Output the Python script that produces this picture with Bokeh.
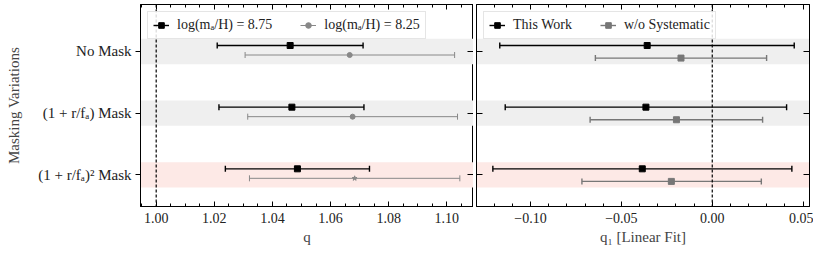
import numpy as np
from bokeh.plotting import figure
from bokeh.layouts import row
from bokeh.models import (ColumnDataSource, FixedTicker, LinearAxis, Legend, LegendItem, Span)
from bokeh.embed import file_html
from bokeh.resources import INLINE

# ---------------- data ----------------
categories = ["No Mask", "(1 + r/fₐ) Mask", "(1 + r/fₐ)² Mask"]
cat_pos = [2, 1, 0]
band_colors = ["#efefef", "#efefef", "#fde9e6"]

# left panel: q
q_main = [1.0461, 1.0467, 1.0486]
q_main_lo = [1.0210, 1.0216, 1.0238]
q_main_hi = [1.0712, 1.0715, 1.0734]
q_alt = [1.0666, 1.0676, 1.0683]
q_alt_lo = [1.0306, 1.0315, 1.0321]
q_alt_hi = [1.1027, 1.1037, 1.1045]
q_alt_markers = ["circle", "circle", "star"]

# right panel: q1 [Linear Fit]
q1_main = [-0.0358, -0.0365, -0.0385]
q1_main_lo = [-0.1169, -0.1139, -0.1207]
q1_main_hi = [0.0451, 0.0409, 0.0438]
q1_sys = [-0.0172, -0.0197, -0.0225]
q1_sys_lo = [-0.0643, -0.0672, -0.0717]
q1_sys_hi = [0.0299, 0.0277, 0.0270]

q_ticks = [1.00, 1.02, 1.04, 1.06, 1.08, 1.10]
q_tick_labels = ["1.00", "1.02", "1.04", "1.06", "1.08", "1.10"]
q1_ticks = [-0.10, -0.05, 0.00, 0.05]
q1_tick_labels = ["−0.10", "−0.05", "0.00", "0.05"]

q_ref = 1.0
q1_ref = 0.0
q_range = (0.9946, 1.1092)
q1_range = (-0.1297, 0.0535)
y_range = (-0.514, 2.762)

FONT = "Liberation Serif"


def hide_labels(ax):
    ax.major_label_text_font_size = "0px"
    ax.major_label_text_color = None
    ax.major_label_standoff = 0


def style_axes(p, xticks, xlabels, minor, xlabel, show_ylabels):
    p.outline_line_color = "black"
    p.outline_line_width = 1
    p.grid.visible = False
    # bottom axis
    xa = p.xaxis[0]
    xa.ticker = FixedTicker(ticks=xticks, minor_ticks=minor)
    xa.major_label_overrides = {t: l for t, l in zip(xticks, xlabels)}
    xa.major_tick_in = 5
    xa.major_tick_out = 0
    xa.minor_tick_in = 3
    xa.minor_tick_out = 0
    xa.major_label_standoff = 6
    xa.major_label_text_font = FONT
    xa.major_label_text_font_size = "14px"
    xa.major_label_text_color = "#222222"
    xa.axis_label = xlabel
    xa.axis_label_text_font = FONT
    xa.axis_label_text_font_style = "normal"
    xa.axis_label_text_font_size = "15px"
    xa.axis_label_standoff = 3
    xa.axis_line_color = "black"
    # top axis
    ta = LinearAxis(ticker=FixedTicker(ticks=xticks, minor_ticks=minor))
    ta.major_tick_in = 5
    ta.major_tick_out = 0
    ta.minor_tick_in = 3
    ta.minor_tick_out = 0
    hide_labels(ta)
    ta.axis_line_color = "black"
    p.add_layout(ta, "above")
    # left axis
    ya = p.yaxis[0]
    ya.ticker = FixedTicker(ticks=cat_pos)
    ya.minor_tick_line_color = None
    ya.axis_line_color = "black"
    if show_ylabels:
        ya.major_label_overrides = {c: l for c, l in zip(cat_pos, categories)}
        ya.major_tick_out = 5
        ya.major_tick_in = 0
        ya.major_label_standoff = 4
        ya.major_label_text_font = FONT
        ya.major_label_text_font_size = "15px"
        ya.major_label_text_color = "#222222"
        ya.axis_label = "Masking Variations"
        ya.axis_label_text_font = FONT
        ya.axis_label_text_font_style = "normal"
        ya.axis_label_text_font_size = "15px"
        ya.axis_label_standoff = 13
    else:
        ya.major_tick_out = 0
        ya.major_tick_in = 6
        hide_labels(ya)
    # right axis
    ra = LinearAxis(ticker=FixedTicker(ticks=cat_pos))
    ra.major_tick_in = 6
    ra.major_tick_out = 0
    ra.minor_tick_line_color = None
    hide_labels(ra)
    ra.axis_line_color = "black"
    p.add_layout(ra, "right")


def add_bands(p, xr):
    src = ColumnDataSource(dict(y=cat_pos, left=[xr[0]] * 3, right=[xr[1]] * 3, color=band_colors))
    p.hbar(y="y", left="left", right="right", height=0.41, fill_color="color",
           line_color=None, source=src)


def add_errorbars(p, x, lo, hi, dy, color, lw, marker, msize, capsize):
    ys = [c + dy for c in cat_pos]
    src = ColumnDataSource(dict(x=x, lo=lo, hi=hi, y=ys, marker=marker))
    seg = p.segment(x0="lo", y0="y", x1="hi", y1="y", line_color=color, line_width=lw, source=src)
    p.scatter(x="lo", y="y", marker="dash", angle=np.pi / 2, size=capsize, line_color=color,
              line_width=lw, source=src)
    p.scatter(x="hi", y="y", marker="dash", angle=np.pi / 2, size=capsize, line_color=color,
              line_width=lw, source=src)
    mk = p.scatter(x="x", y="y", marker="marker", size=msize, fill_color=color, line_color=color,
                   source=src)
    return seg, mk


def make_legend(p, items):
    leg = Legend(items=items, orientation="horizontal", location="top_left")
    leg.label_text_font = FONT
    leg.label_text_font_size = "14px"
    leg.label_text_color = "#222222"
    leg.border_line_color = "#cccccc"
    leg.border_line_width = 1
    leg.background_fill_alpha = 0.85
    leg.glyph_width = 16
    leg.glyph_height = 14
    leg.label_standoff = 8
    leg.spacing = 28
    leg.padding = 5
    leg.margin = 7
    p.add_layout(leg)


# ---------------- left panel ----------------
p1 = figure(frame_width=333, frame_height=202, x_range=q_range, y_range=y_range,
            output_backend="svg", toolbar_location=None,
            min_border_left=140, min_border_right=0, min_border_top=4, min_border_bottom=39)
style_axes(p1, q_ticks, q_tick_labels, list(np.round(np.arange(0.995, 1.109, 0.005), 4)), "q", True)
p1.xaxis[0].axis_label_text_font_style = "italic"
add_bands(p1, q_range)
p1.add_layout(Span(location=q_ref, dimension="height", line_color="black", line_width=1.2,
                   line_dash="3 2"))
s1, m1 = add_errorbars(p1, q_main, q_main_lo, q_main_hi, 0.097, "black", 1.4, ["square"] * 3, 6, 6)
s2, m2 = add_errorbars(p1, q_alt, q_alt_lo, q_alt_hi, -0.057, "#888888", 1.0, q_alt_markers, 5, 6)
make_legend(p1, [LegendItem(label="log(mₐ/H) = 8.75", renderers=[s1, m1]),
                 LegendItem(label="log(mₐ/H) = 8.25", renderers=[s2, m2])])

# ---------------- right panel ----------------
p2 = figure(frame_width=333, frame_height=202, x_range=q1_range, y_range=y_range,
            output_backend="svg", toolbar_location=None,
            min_border_left=3, min_border_right=4, min_border_top=4, min_border_bottom=39)
style_axes(p2, q1_ticks, q1_tick_labels, list(np.round(np.arange(-0.12, 0.051, 0.01), 4)),
           "q₁ [Linear Fit]", False)
add_bands(p2, q1_range)
p2.add_layout(Span(location=q1_ref, dimension="height", line_color="black", line_width=1.2,
                   line_dash="3 2"))
s3, m3 = add_errorbars(p2, q1_main, q1_main_lo, q1_main_hi, 0.097, "black", 1.4, ["square"] * 3, 6, 6)
s4, m4 = add_errorbars(p2, q1_sys, q1_sys_lo, q1_sys_hi, -0.107, "#777777", 1.4, ["square"] * 3, 6, 6)
make_legend(p2, [LegendItem(label="This Work", renderers=[s3, m3]),
                 LegendItem(label="w/o Systematic", renderers=[s4, m4])])

layout = row(p1, p2)
open("out.html", "w").write(file_html(layout, INLINE))
